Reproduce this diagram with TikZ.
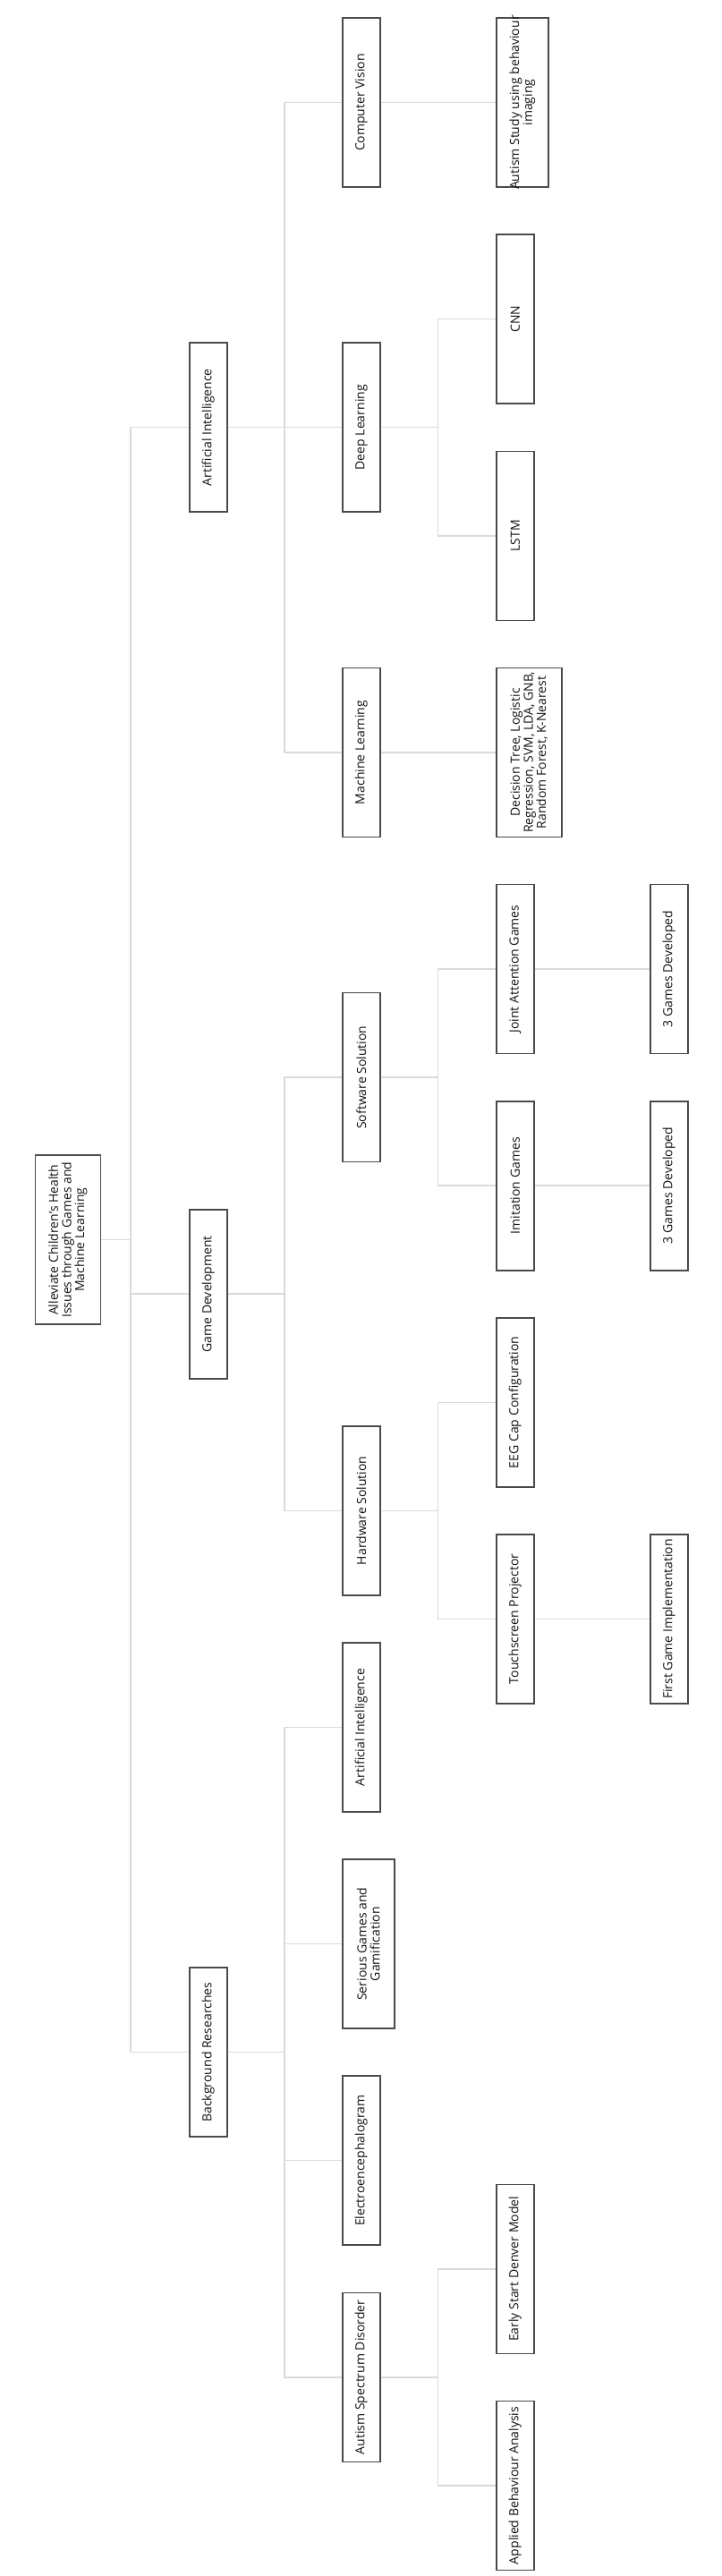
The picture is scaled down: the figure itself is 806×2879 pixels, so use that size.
\documentclass[tikz,border=0pt]{standalone}
\usepackage{fontspec}
\setmainfont{Open Sans}
\definecolor{boxc}{HTML}{4A4A4A}
\definecolor{linec}{HTML}{DADADA}
\definecolor{txtc}{HTML}{111111}
\begin{document}
\begin{tikzpicture}[x=1pt,y=-1pt,
  box/.style={draw=boxc, line width=1.6pt, rotate=90, anchor=north,
    minimum width=189pt, minimum height=42pt, inner sep=0pt, align=center,
    text=txtc, font=\fontsize{14}{14.7}\selectfont},
  two/.style={minimum height=58pt},
  three/.style={minimum height=73pt},
  conn/.style={draw=linec, line width=1.5pt}]
\useasboundingbox (0,0) rectangle (806,2879);
\coordinate (bus1) at (146,0);
\coordinate (bus2) at (318,0);
\coordinate (bus3) at (489.5,0);
% root
\node[box,three] (root) at (38.6,1385.7) {Alleviate Children's Health\\Issues through Games and\\Machine Learning};
% level 1
\node[box] (ai1) at (211,477.7) {Artificial Intelligence};
\node[box] (gd) at (211,1446.2) {Game Development};
\node[box] (br) at (211,2293.6) {Background Researches};
% level 2
\node[box] (cv) at (382,114.6) {Computer Vision};
\node[box] (dl) at (382,477.7) {Deep Learning};
\node[box] (ml) at (382,840.9) {Machine Learning};
\node[box] (sw) at (382,1204.1) {Software Solution};
\node[box] (hw) at (382,1688.3) {Hardware Solution};
\node[box] (ai2) at (382,1930.5) {Artificial Intelligence};
\node[box,two] (sg) at (382,2172.6) {Serious Games and\\Gamification};
\node[box] (eeg) at (382,2414.7) {Electroencephalogram};
\node[box] (asd) at (382,2656.8) {Autism Spectrum Disorder};
% level 3
\node[box,two] (as) at (554,114.6) {\makebox[180pt]{Autism Study using behaviour}\\imaging};
\node[box] (cnn) at (554,356.7) {CNN};
\node[box] (lstm) at (554,598.8) {LSTM};
\node[box,three] (dt) at (554,840.9) {Decision Tree, Logistic\\Regression, SVM, LDA, GNB,\\Random Forest, K-Nearest};
\node[box] (ja) at (554,1083.0) {Joint Attention Games};
\node[box] (im) at (554,1325.2) {Imitation Games};
\node[box] (cap) at (554,1567.3) {EEG Cap Configuration};
\node[box] (ts) at (554,1809.4) {Touchscreen Projector};
\node[box] (esdm) at (554,2535.8) {Early Start Denver Model};
\node[box] (aba) at (554,2777.9) {Applied Behaviour Analysis};
% level 4
\node[box] (g1) at (726,1083.0) {3 Games Developed};
\node[box] (g2) at (726,1325.2) {3 Games Developed};
\node[box] (fg) at (726,1809.4) {First Game Implementation};
% bus connectors
\foreach \p/\c/\b in {root/ai1/bus1, root/gd/bus1, root/br/bus1,
  ai1/cv/bus2, ai1/dl/bus2, ai1/ml/bus2,
  gd/sw/bus2, gd/hw/bus2,
  br/ai2/bus2, br/sg/bus2, br/eeg/bus2, br/asd/bus2,
  dl/cnn/bus3, dl/lstm/bus3,
  sw/ja/bus3, sw/im/bus3,
  hw/cap/bus3, hw/ts/bus3,
  asd/esdm/bus3, asd/aba/bus3}
  \draw[conn] (\p.south) -- (\p.south -| \b) |- (\c.north);
% direct connectors
\foreach \p/\c in {cv/as, ml/dt, ja/g1, im/g2, ts/fg}
  \draw[conn] (\p.south) -- (\c.north);
\end{tikzpicture}
\end{document}
